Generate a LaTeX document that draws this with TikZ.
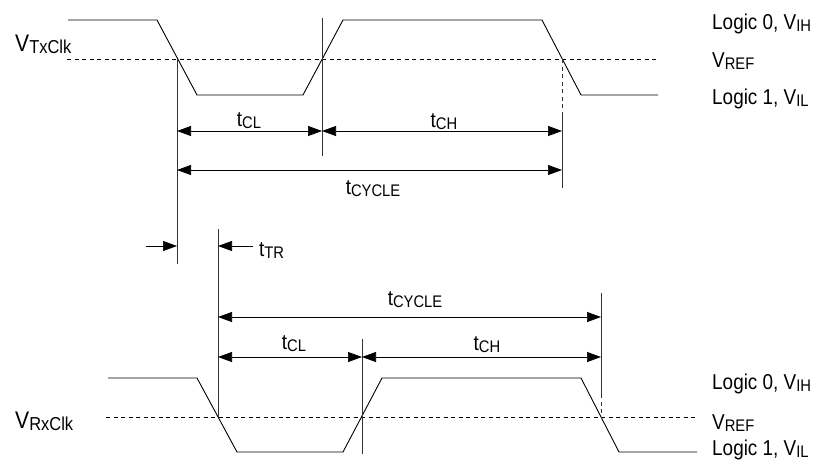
\documentclass[tikz,border=0pt]{standalone}
\usepackage{fontspec}
\setmainfont{Liberation Sans}[FakeStretch=0.88]
\usetikzlibrary{arrows.meta}
\newcommand{\lo}[1]{\raisebox{-0.12em}{\scalebox{0.78}{#1}}}
\tikzset{
	wave/.style={line width=0.9pt},
	vref/.style={line width=0.7pt, dash pattern=on 4pt off 3.5pt},
	edgeline/.style={line width=0.7pt, black!80},
	dimline/.style={line width=0.7pt, {Triangle[length=14pt,width=10pt]}-{Triangle[length=14pt,width=10pt]}},
	tipline/.style={line width=0.7pt, -{Triangle[length=14pt,width=10pt]}},
	lbl/.style={inner sep=0pt, font=\fontsize{21.5}{21.5}\selectfont},
	siglbl/.style={inner sep=0pt, font=\fontsize{24}{24}\selectfont},
}

\begin{document}
\begin{tikzpicture}[x=1pt,y=-1pt]
\useasboundingbox (0,0) rectangle (829,471);

% corners of both clocks
\foreach \n/\x/\y in {t1/68/20,t2/157/20,t3/197/95,t4/303/95,t5/343/20,t6/542/20,t7/581/95,t8/658/95,
	r1/108/378,r2/197/378,r3/237/452,r4/343/452,r5/382/378,r6/581/378,r7/619/452,r8/697/452}{
	\coordinate(\n) at (\x,\y);
}
% crossings with V_REF
\foreach \n/\x/\y in {tc1/177/59,tc2/322/59,tc3/562/59,rc1/218/417,rc2/362/417,rc3/601/417}{
	\coordinate(\n) at (\x,\y);
}

%TxClk
\draw [vref] (67,59)coordinate(tv1)--(658,59)coordinate(tv2);
\draw [wave] (t1)--(t2)--(t3)--(t4)--(t5)--(t6)--(t7)--(t8);
\node [siglbl, anchor=base west] (vtx) at (15,51) {V\lo{TxClk}};

%RxClk
\draw [vref] (106,417)coordinate(rv1)--(697,417)coordinate(rv2);
\draw [wave] (r1)--(r2)--(r3)--(r4)--(r5)--(r6)--(r7)--(r8);
\node [siglbl, anchor=base west] (vrx) at (15,428) {V\lo{RxClk}};

%edges
\draw [edgeline] (tc1)--(177,264)coordinate(e1);
\draw [edgeline] (322,18)coordinate(e2a)--(322,156)coordinate(e2b);
\draw [edgeline, vref] (tc3)--(562,115)coordinate(e3a);
\draw [edgeline] (e3a)--(562,188)coordinate(e3b);
\draw [edgeline] (218,229)coordinate(e4)--(rc1);
\draw [edgeline] (362,339)coordinate(e5a)--(362,454)coordinate(e5b);
\draw [edgeline] (601,293)coordinate(e6a)--(601,394)coordinate(e6b);
\draw [edgeline, vref] (e6b)--(rc3);

%t_CL, t_CH, t_CYCLE (TxClk)
\draw [dimline] (177,131)coordinate(d1)--(322,131)coordinate(d2);
\draw [dimline] (d2)--(562,131)coordinate(d3);
\draw [dimline] (177,170)coordinate(d4)--(562,170)coordinate(d5);
\node [lbl, anchor=base] (tcla) at (249,126) {t\lo{CL}};
\node [lbl, anchor=base] (tcha) at (444,127) {t\lo{CH}};
\node [lbl, anchor=base] (tcya) at (373,194) {t\lo{CYCLE}};

%t_TR
\draw [tipline] (146,246)coordinate(s1)--(177,246)coordinate(s2);
\draw [tipline] (253,246)coordinate(s3)--(218,246)coordinate(s4);
\node [lbl, anchor=base west] (ttr) at (259,256) {t\lo{TR}};

%t_CYCLE, t_CL, t_CH (RxClk)
\draw [dimline] (218,317)coordinate(d6)--(601,317)coordinate(d7);
\draw [dimline] (218,357)coordinate(d8)--(362,357)coordinate(d9);
\draw [dimline] (d9)--(601,357)coordinate(d10);
\node [lbl, anchor=base] (tcyb) at (415,305) {t\lo{CYCLE}};
\node [lbl, anchor=base] (tclb) at (294,349) {t\lo{CL}};
\node [lbl, anchor=base] (tchb) at (487,350) {t\lo{CH}};

%levels
\node [lbl, anchor=base west] (ha) at (712,29) {Logic 0, V\lo{IH}};
\node [lbl, anchor=base west] (ma) at (712,67) {V\lo{REF}};
\node [lbl, anchor=base west] (la) at (712,104) {Logic 1, V\lo{IL}};
\node [lbl, anchor=base west] (hb) at (712,389) {Logic 0, V\lo{IH}};
\node [lbl, anchor=base west] (mb) at (712,429) {V\lo{REF}};
\node [lbl, anchor=base west] (lb) at (712,455) {Logic 1, V\lo{IL}};

\end{tikzpicture}
\end{document}
